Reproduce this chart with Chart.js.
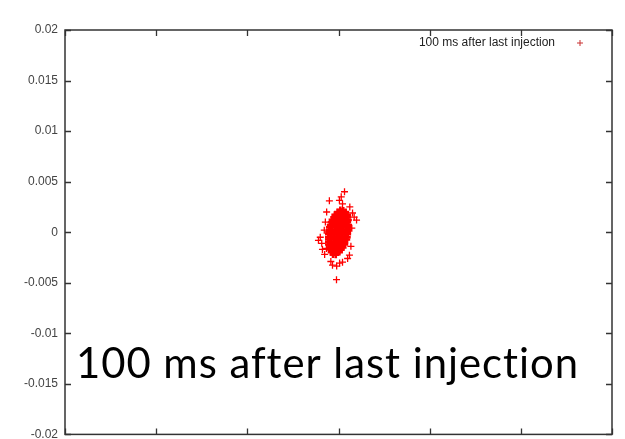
<!DOCTYPE html>
<html><head><meta charset="utf-8">
<script src="https://cdn.jsdelivr.net/npm/chart.js@4"></script>
<style>html,body{margin:0;padding:0;background:#fff;overflow:hidden}#wrap{width:625px;height:439px;overflow:hidden}</style>
</head><body>
<div id="wrap"><canvas id="c" width="625" height="441"></canvas></div>
<script>
// ---- data (cloud coordinates in units of 1e-4) ----
const seriesLabel = '100 ms after last injection';
const overlayText = '100 ms after last injection';
const xRange = [-0.015, 0.015];
const yRange = [-0.02, 0.02];
const yTickLabels = ['-0.02','-0.015','-0.01','-0.005','0','0.005','0.01','0.015','0.02'];
const UNIT = 1e-4;
// dense core of the cloud
const coreCloud = [
  [1,22],[2.6,21.5],
  [-0.5,20],[1.1,20.4],[2.4,19.6],[3.9,20],
  [-2,17.2],[-0.4,16.8],[1,17],[2.6,17.3],[4,16.7],[5,17],
  [-2.6,14.8],[-1,15.2],[0.4,14.9],[2,15],[3.5,15.3],[5,14.7],
  [-3.5,12.2],[-2,11.8],[-0.5,12],[1,12.3],[2.5,11.7],[4,12],[5.4,12.1],
  [-4,9.8],[-2.5,10.2],[-1,9.9],[0.5,10],[2,10.3],[3.5,9.7],[5,10],
  [-4.5,7],[-3,7.3],[-1.5,6.8],[0,7.1],[1.5,6.9],[3,7.2],[4.5,6.8],[5.5,7],
  [-5,4.8],[-3.5,5.2],[-2,5],[-0.5,4.7],[1,5.1],[2.5,4.9],[4,5.3],[5.4,4.8],
  [-5,2.2],[-3.5,1.8],[-2,2],[-0.5,2.3],[1,1.9],[2.5,2.1],[4,1.8],[5.4,2.2],
  [-5.4,0],[-4,0.3],[-2.5,-0.2],[-1,0.1],[0.5,-0.1],[2,0.2],[3.5,0],[5,-0.2],
  [-5.5,-2.1],[-4,-1.8],[-2.5,-2.2],[-1,-2],[0.5,-1.7],[2,-2.1],[3.5,-2.3],[5,-1.9],
  [-5.5,-5.1],[-4,-4.8],[-2.5,-5.2],[-1,-5],[0.5,-4.9],[2,-5.3],[3.5,-4.8],[4.8,-5],
  [-5.5,-7.2],[-4,-6.9],[-2.5,-7],[-1,-7.3],[0.5,-6.8],[2,-7.1],[3.5,-7],[4.5,-7.2],
  [-5.5,-9.8],[-4,-10.2],[-2.5,-10],[-1,-9.7],[0.5,-10.1],[2,-10.3],[3.5,-9.9],
  [-5.5,-12.2],[-4,-11.8],[-2.5,-12],[-1,-12.3],[0.5,-11.9],[2,-12.1],[3.4,-12],
  [-5,-15.2],[-3.5,-14.8],[-2,-15],[-0.5,-15.3],[1,-14.9],[2.5,-15.1],
  [-4.5,-17],[-3,-17.3],[-1.5,-16.8],[0,-17.1],[1.5,-17],
  [-4,-19.8],[-2.5,-20.2],[-1,-20],[0.5,-19.7],
  [-3,-22],[-1.5,-22.3]
];
// scattered outliers around the core
const outerCloud = [
  [3.3,40],[1.5,35],[-5,31],[0.5,31.5],[2.2,28],[6.2,25],[7.7,19],[8.6,15],[9.9,12],
  [7.3,4],[-7.2,10],[-7.8,2],[-10,-5],[-11,-8],[-9.2,-11],[-8.8,-17],[-7.6,-22],
  [-6.6,-16],[6,-22.7],[5,-26],[2.2,-29.6],[-3.3,-32.6],[-1,-33.5],[0.6,-30.5],
  [-4.2,-29],[-1.1,-47],[6.8,-14],[-6.5,20]
];

const allPoints = coreCloud.concat(outerCloud).map(p => ({x: p[0]*UNIT, y: p[1]*UNIT}));

const frame = {
  id: 'frame',
  afterDatasetsDraw(chart) {
    const ctx = chart.ctx, ca = chart.chartArea;
    const xs = chart.scales.x, ys = chart.scales.y;
    ctx.save();
    ctx.strokeStyle = '#333';
    ctx.lineWidth = 1.3;
    ctx.beginPath();
    xs.ticks.forEach((t, i) => {
      const px = Math.round(xs.getPixelForTick(i)) + 0.5;
      ctx.moveTo(px, ca.bottom); ctx.lineTo(px, ca.bottom - 6);
      ctx.moveTo(px, ca.top); ctx.lineTo(px, ca.top + 6);
    });
    ys.ticks.forEach((t, i) => {
      const py = Math.round(ys.getPixelForTick(i)) + 0.5;
      ctx.moveTo(ca.left, py); ctx.lineTo(ca.left + 6, py);
      ctx.moveTo(ca.right, py); ctx.lineTo(ca.right - 6, py);
    });
    ctx.stroke();
    ctx.lineWidth = 1.5;
    ctx.strokeRect(ca.left, ca.top, ca.right - ca.left, ca.bottom - ca.top);
    // legend
    ctx.font = '12px "Liberation Sans", Arial, sans-serif';
    ctx.fillStyle = '#222';
    ctx.textAlign = 'right';
    ctx.textBaseline = 'middle';
    ctx.fillText(seriesLabel, ca.right - 57, ca.top + 13);
    ctx.strokeStyle = '#c83030';
    ctx.lineWidth = 1;
    Chart.helpers.drawPoint(ctx, {pointStyle: 'cross', radius: 3, borderWidth: 1, rotation: 0}, ca.right - 32, ca.top + 13);
    // overlay caption
    ctx.font = '43px Lato, "Open Sans", sans-serif';
    if ('letterSpacing' in ctx) ctx.letterSpacing = '1px';
    ctx.fillStyle = '#000';
    ctx.textAlign = 'left';
    ctx.textBaseline = 'alphabetic';
    ctx.fillText(overlayText, ca.left + 11, 378, 503);
    ctx.restore();
  }
};

const nCore = coreCloud.length;

new Chart(document.getElementById('c'), {
  type: 'scatter',
  data: {
    datasets: [{
      label: seriesLabel,
      data: allPoints,
      pointStyle: 'cross',
      radius: 3.5,
      borderWidth: c => (c.dataIndex < nCore ? 2.6 : 1.3),
      borderColor: '#ff0000',
      backgroundColor: '#ff0000'
    }]
  },
  options: {
    responsive: false,
    animation: false,
    devicePixelRatio: 1,
    layout: {padding: {top: 30, right: 13, left: 0, bottom: 0}},
    plugins: {legend: {display: false}, tooltip: {enabled: false}},
    scales: {
      x: {
        type: 'linear', min: xRange[0], max: xRange[1],
        ticks: {stepSize: 0.005, display: false},
        grid: {display: false},
        border: {display: false},
        afterFit(s) { s.height = 3; s.paddingLeft = 0; s.paddingRight = 0; }
      },
      y: {
        type: 'linear', min: yRange[0], max: yRange[1],
        ticks: {
          stepSize: 0.005, padding: 7, color: '#444',
          font: {family: '"Liberation Sans", Arial, sans-serif', size: 12},
          callback: (v, i) => yTickLabels[i]
        },
        grid: {display: false, drawTicks: false},
        border: {display: false},
        afterFit(s) { s.width = 65; s.paddingTop = 0; s.paddingBottom = 0; }
      }
    }
  },
  plugins: [frame]
});
</script>
</body></html>
